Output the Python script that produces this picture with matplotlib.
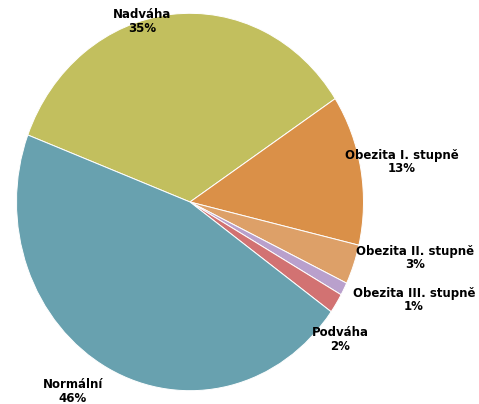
import numpy as np
import matplotlib.pyplot as plt

# podil skupin BMI
categories = ["Nadváha", "Obezita I. stupně", "Obezita II. stupně",
              "Obezita III. stupně", "Podváha", "Normální"]
values = [35.0, 12.9, 3.4, 1.1, 1.7, 45.9]
pct_labels = ["35%", "13%", "3%", "1%", "2%", "46%"]

colors = ["#C2BF5E", "#DA9048", "#DDA068", "#B9A0CC", "#D27272", "#68A1AF"]

# label centres in pixels (x from left, y from top)
label_px = [(142, 22), (402, 162), (415, 258), (414, 300), (340, 339), (73, 391)]

W, H = 479, 404
cx, cy = 190, 202
rx, ry = 173.5, 188.7

fig = plt.figure(figsize=(W / 100, H / 100), dpi=100)
ax = fig.add_axes([0, 0, 1, 1])

ax.pie(values, colors=colors, startangle=159.2, counterclock=False,
       wedgeprops=dict(edgecolor="white", linewidth=0.7))

ax.set_aspect("auto")
ax.set_xlim(-cx / rx, (W - cx) / rx)
ax.set_ylim(-(H - cy) / ry, cy / ry)
ax.axis("off")

for name, pct, (px, py) in zip(categories, pct_labels, label_px):
    ax.text((px - cx) / rx, (cy - py) / ry, name + "\n" + pct,
            ha="center", va="center", fontsize=8.5, fontweight="bold",
            color="#000000", linespacing=1.1)

fig.savefig("out.png", dpi=100)
